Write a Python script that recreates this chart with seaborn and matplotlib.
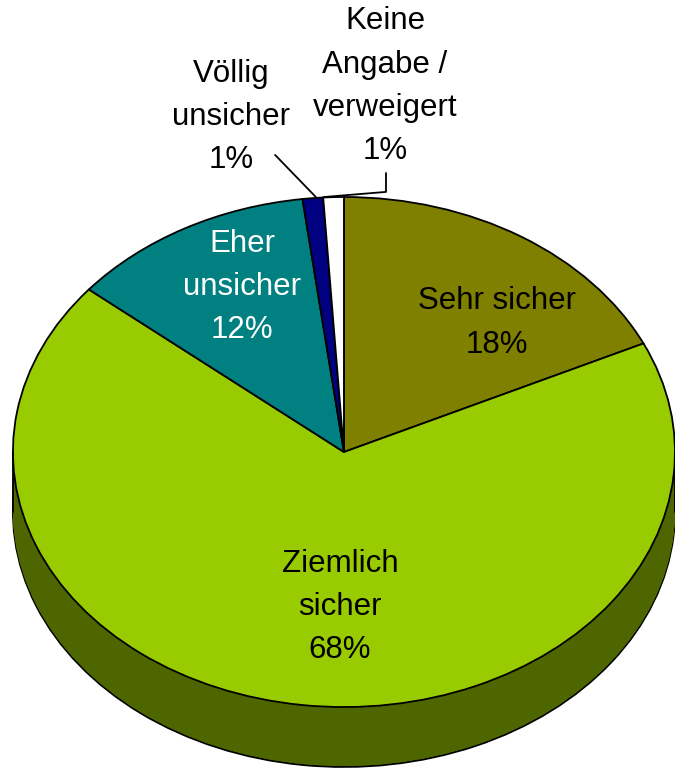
import numpy as np
import matplotlib
matplotlib.use("Agg")
import matplotlib.pyplot as plt
import seaborn as sns

# ---- Data ----
CATEGORIES = ["Sehr sicher", "Ziemlich\nsicher", "Eher\nunsicher",
              "Völlig\nunsicher", "Keine\nAngabe /\nverweigert"]
VALUES = [18, 68, 12, 1, 1]
COLORS = ["#808000", "#99CC00", "#008080", "#000080", "#FFFFFF"]
TEXT_COLORS = ["black", "black", "white", "black", "black"]

sns.set_style("white")
plt.rcParams["font.family"] = ["Liberation Sans", "DejaVu Sans"]

DEPTH = 0.235
X_LIM = (-1.039, 1.0)
Y_LIM = (-1.239, 1.7725)
LW = 1.3


def darken(c, f=0.5):
    rgb = np.array(matplotlib.colors.to_rgb(c))
    return tuple(rgb * f)


fig = plt.figure(figsize=(6.75, 7.68), dpi=100)
ax = fig.add_axes([0, 0, 1, 1])

dark = [darken(c) for c in COLORS]

# side wall: stacked layers, bottom one outlined
levels = np.linspace(DEPTH, 0, 60)
for i, k in enumerate(levels):
    wp = dict(linewidth=LW, edgecolor="black") if i == 0 else dict(linewidth=0)
    ax.pie(VALUES, colors=dark, startangle=90, counterclock=False,
           center=(0, -k), wedgeprops=wp)
ax.plot([-1, -1], [0, -DEPTH], color="black", lw=LW)
ax.plot([1, 1], [0, -DEPTH], color="black", lw=LW)

# top face
ax.pie(VALUES, colors=COLORS, startangle=90, counterclock=False,
       wedgeprops=dict(linewidth=LW, edgecolor="black"))

ax.set_aspect("auto")
ax.set_xlim(*X_LIM)
ax.set_ylim(*Y_LIM)
ax.axis("off")

# labels
pcts = [f"{v}%" for v in VALUES]
label_pos = [(0.462, 0.506), (-0.012, -0.608), (-0.308, 0.647),
             (-0.341, 1.314), (0.124, 1.435)]
for cat, p, (x, y), tc in zip(CATEGORIES, pcts, label_pos, TEXT_COLORS):
    ax.text(x, y, f"{cat}\n{p}", ha="center", va="center", fontsize=22.5,
            color=tc, linespacing=1.57)

# leader lines for the small slices
ax.plot([-0.208, -0.085], [1.165, 1.0], color="black", lw=LW)
ax.plot([0.127, 0.127, -0.06], [1.094, 1.02, 1.0], color="black", lw=LW)

fig.savefig("out.png", dpi=100)
plt.close(fig)
